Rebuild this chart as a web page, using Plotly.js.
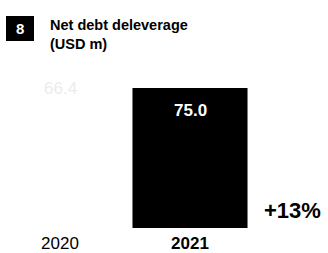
<!DOCTYPE html>
<html>
<head>
<meta charset="utf-8">
<script src="https://cdn.plot.ly/plotly-3.0.1.min.js"></script>
<style>html,body{margin:0;padding:0;background:#fff;}#chart{width:328px;height:253px;}</style>
</head>
<body>
<div id="chart"></div>
<script>
const years = ["2020", "2021"];
const values = [66.4, 75.0];
const valueLabels = ["66.4", "75.0"];
const tickLabels = ["2020", "<b>2021</b>"];
const changeLabel = "+13%";
const chartNumber = "8";
const titleText = "<b>Net debt deleverage<br>(USD m)</b>";

const xs = years.map((_, i) => i);
const W = 328, H = 253, PH = 228;
const font = "Liberation Sans, Arial, Helvetica, sans-serif";
const py = px => (PH - px) / PH;

const trace = {
  type: "bar",
  x: xs,
  y: values,
  width: 0.885,
  marker: {color: ["#ffffff", "#000000"], line: {width: 0}},
  hoverinfo: "none"
};

const annotations = [
  {xref: "x", yref: "y", x: xs[0], y: values[0], text: valueLabels[0], showarrow: false,
   yanchor: "bottom", yshift: 4, font: {family: font, size: 17, color: "#ececec"}},
  {xref: "x", yref: "y", x: xs[1], y: values[1], text: "<b>" + valueLabels[1] + "</b>", showarrow: false,
   yanchor: "top", yshift: -11, font: {family: font, size: 17, color: "#ffffff"}},
  {xref: "paper", yref: "paper", x: 292 / W, y: py(210), text: "<b>" + changeLabel + "</b>",
   showarrow: false, xanchor: "center", yanchor: "middle", font: {family: font, size: 22, color: "#000"}},
  {xref: "paper", yref: "paper", x: 20 / W, y: py(29), text: "<b>" + chartNumber + "</b>",
   showarrow: false, xanchor: "center", yanchor: "middle", font: {family: font, size: 15, color: "#fff"}},
  {xref: "paper", yref: "paper", x: 48 / W, y: py(15), text: titleText, align: "left",
   showarrow: false, xanchor: "left", yanchor: "top", font: {family: font, size: 14.5, color: "#000"}}
];

const layout = {
  width: W, height: H,
  margin: {l: 0, r: 0, t: 0, b: H - PH, pad: 0},
  paper_bgcolor: "#fff", plot_bgcolor: "#fff",
  showlegend: false,
  xaxis: {range: [-60 / 130, (W - 60) / 130], tickvals: xs, ticktext: tickLabels,
          showgrid: false, zeroline: false, showline: false, ticks: "", ticklabelstandoff: 3,
          tickfont: {family: font, size: 17, color: "#000"}, fixedrange: true},
  yaxis: {range: [0, PH / (140 / 75)], visible: false, showgrid: false, zeroline: false, fixedrange: true},
  shapes: [
    {type: "rect", xref: "paper", yref: "paper", x0: 6 / W, x1: 34 / W,
     y0: py(41), y1: py(16), fillcolor: "#000", line: {width: 0}}
  ],
  annotations: annotations
};

Plotly.newPlot("chart", [trace], layout, {displayModeBar: false, staticPlot: true});
</script>
</body>
</html>
